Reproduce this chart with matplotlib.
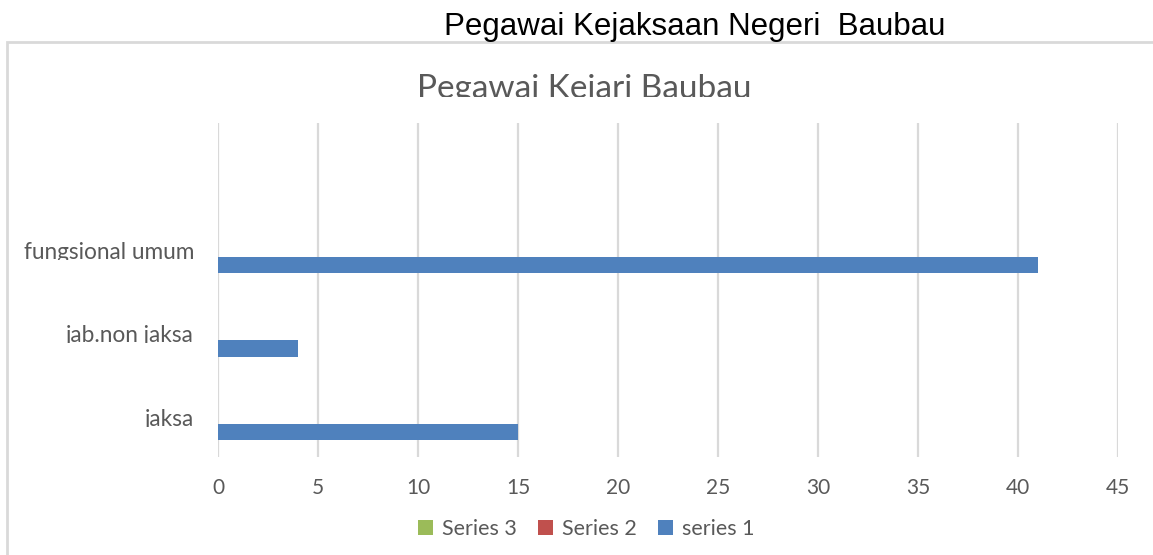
import matplotlib
matplotlib.use("Agg")
import matplotlib.pyplot as plt
from matplotlib.patches import Rectangle
from matplotlib.transforms import Bbox, TransformedBbox

# data (the top slot is an empty category)
categories = ['jaksa', 'jab.non jaksa', 'fungsional umum', '']
series1 = [15, 4, 41, 0]
series2 = [0, 0, 0, 0]
series3 = [0, 0, 0, 0]
series_names = ['series 1', 'Series 2', 'Series 3']
colors = ['#4F81BD', '#C0504D', '#9BBB59']
xticks = [0, 5, 10, 15, 20, 25, 30, 35, 40, 45]

W, H = 1153, 555
gray = '#595959'
font = 'Lato'

fig = plt.figure(figsize=(W / 100, H / 100), dpi=100)
fig.patch.set_facecolor('white')

# chart-area border
fig.patches.append(Rectangle((7 / W, -0.1), 1.2, 1.1 - 42 / H, transform=fig.transFigure,
                             fill=False, edgecolor='#d9d9d9', linewidth=2.0))

ax = fig.add_axes([218 / W, 1 - 457 / H, 900 / W, (457 - 123) / H])
ypos = list(range(len(categories)))
h = 0.2
bars1 = ax.barh([y - h for y in ypos], series1, height=h, color=colors[0], zorder=3)
bars2 = ax.barh(ypos, series2, height=h, color=colors[1], zorder=3)
bars3 = ax.barh([y + h for y in ypos], series3, height=h, color=colors[2], zorder=3)

ax.set_xlim(0, 45)
ax.set_ylim(-0.5, len(categories) - 0.5)
ax.set_xticks(xticks)
ax.set_xticklabels([str(t) for t in xticks], fontsize=15, color=gray, family=font)
ax.tick_params(axis='x', length=0, pad=15)
ax.set_yticks([])
ax.grid(axis='x', color='#d9d9d9', linewidth=1.6, zorder=0)
for s in ax.spines.values():
    s.set_visible(False)

# category labels, cut off just below the bar top like in the original
for y, name in zip(ypos, categories):
    if not name:
        continue
    cut = y - h / 2 - 0.035
    clip = TransformedBbox(Bbox([[-20, cut], [0, y + 0.5]]), ax.transData)
    lbl = ax.text(-1.2, cut + 0.01, name, ha='right', va='baseline', fontsize=16.3,
                  color=gray, family=font)
    lbl.set_clip_path(None)
    lbl.set_clip_box(clip)
    lbl.set_clip_on(True)

# outer title
fig.text(695 / W, 1 - 35 / H, 'Pegawai Kejaksaan Negeri  Baubau', ha='center', va='baseline',
         fontsize=22.5, family='Liberation Sans', color='black')

# inner chart title, clipped at its baseline
t = fig.text(584 / W, 1 - 98 / H, 'Pegawai Kejari Baubau', ha='center', va='baseline',
             fontsize=24, family=font, color=gray)
t.set_clip_box(Bbox.from_extents(0, H - 97, W, H))
t.set_clip_on(True)

fig.legend([bars3, bars2, bars1], ['Series 3', 'Series 2', 'series 1'], loc='center',
           bbox_to_anchor=(586 / W, 1 - 529 / H), ncol=3, frameon=False,
           handlelength=0.7, handleheight=0.7, handletextpad=0.4, columnspacing=1.0,
           prop={'family': font, 'size': 15.5}, labelcolor=gray)

fig.savefig('out.png', dpi=100, facecolor='white')
